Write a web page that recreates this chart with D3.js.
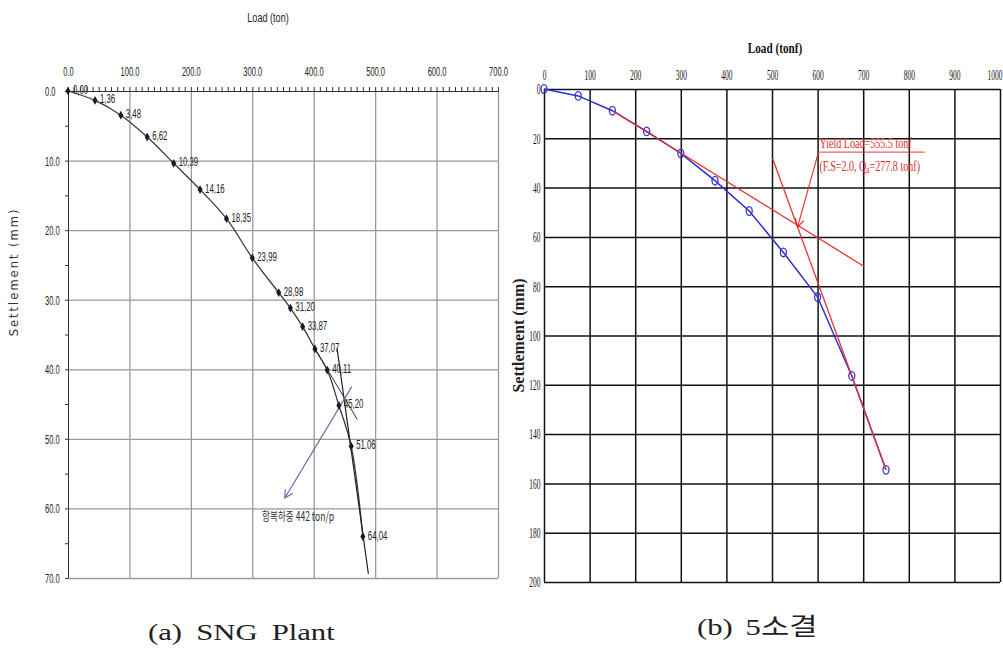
<!DOCTYPE html>
<html>
<head>
<meta charset="utf-8">
<script src="https://cdn.jsdelivr.net/npm/d3@7/dist/d3.min.js"></script>
<style>
  body { margin: 0; background: #fff; }
  svg { display: block; }
</style>
</head>
<body>
<svg id="drawing_region"></svg>
<script>
// (a) SNG Plant
const leftLoads       = [0, 44, 86, 129, 172, 215, 258, 300, 343, 362, 382, 402, 422, 441, 461, 480];
const leftSettlements = [0, 1.36, 3.48, 6.62, 10.39, 14.16, 18.35, 23.99, 28.98, 31.20, 33.87, 37.07, 40.11, 45.20, 51.06, 64.04];
const leftXTicks = [0, 100, 200, 300, 400, 500, 600, 700];
const leftYTicks = [0, 10, 20, 30, 40, 50, 60, 70];
const leftTangentA = [[402, 37.07], [471, 47.2]];
const leftTangentB = [[438, 37], [489, 69.4]];
const leftArrow    = [[462, 42.5], [353, 58.5]];
const leftNote     = {load: 316, settlement: 61.8, text: '항복하중  442  ton/p'};

// (b) 5소결
const rightLoads       = [0, 75, 150, 225, 300, 375, 450, 525, 600, 675, 750];
const rightSettlements = [0, 2.8, 8.8, 17.2, 26.1, 37.2, 49.5, 66.3, 84.4, 116.4, 154.5];
const rightXTicks = [0, 100, 200, 300, 400, 500, 600, 700, 800, 900, 1000];
const rightYTicks = [0, 20, 40, 60, 80, 100, 120, 140, 160, 180, 200];
const rightTangentA = [[150, 8.8], [702, 72]];
const rightTangentB = [[501, 28], [750, 154.5]];
const rightArrow    = [[602, 25.6], [556, 56]];
const rightUnder    = [[602, 25.6], [835, 25.6]];
const rightNote1 = 'Yield  Load=555.5 tonf';
const rightNote2 = '(F.S=2.0, Q';

const svg = d3.select('#drawing_region')
    .attr('width', 1003)
    .attr('height', 648);

svg.append('rect').attr('width', 1003).attr('height', 648).attr('fill', '#fff');

const defs = svg.append('defs');
function arrowMarker(id, color) {
    defs.append('marker')
        .attr('id', id)
        .attr('viewBox', '0 0 10 10')
        .attr('refX', 9).attr('refY', 5)
        .attr('markerWidth', 9).attr('markerHeight', 9)
        .attr('markerUnits', 'userSpaceOnUse')
        .attr('orient', 'auto')
        .append('path')
        .attr('d', 'M0,0 L9,5 L0,10')
        .attr('fill', 'none')
        .attr('stroke', color)
        .attr('stroke-width', 1.3);
}
arrowMarker('arrowBlue', '#6a6aa8');
arrowMarker('arrowRed', '#e02a2a');

const sans = "'Liberation Sans',Arial,sans-serif";
const serif = "'Liberation Serif','Times New Roman',serif";

// squeezed (or stretched) text, like the narrow fonts of the original
function squeezed(parent, x, y, sx, txt) {
    return parent.append('text')
        .attr('transform', `translate(${x}, ${y}) scale(${sx}, 1)`)
        .text(txt);
}

// ---------------- left chart ----------------
const ax = d3.scaleLinear().domain([0, 700]).range([68, 498]);
const ay = d3.scaleLinear().domain([0, 70]).range([91, 578]);
const L = svg.append('g');

// vertical grid
L.append('g')
    .attr('transform', `translate(0, ${ay(0)})`)
    .call(d3.axisTop(ax).tickValues(leftXTicks.slice(1)).tickSize(-(ay(70) - ay(0))).tickFormat(''))
    .call(g => g.select('.domain').remove())
    .selectAll('line').attr('stroke', '#9a9a9a').attr('stroke-width', 1.3);

// horizontal grid
L.append('g')
    .attr('transform', `translate(${ax(0)}, 0)`)
    .call(d3.axisLeft(ay).tickValues(leftYTicks.slice(1)).tickSize(-(ax(700) - ax(0))).tickFormat(''))
    .call(g => g.select('.domain').remove())
    .selectAll('line').attr('stroke', '#9a9a9a').attr('stroke-width', 1.3);

// top axis with minor ticks
L.append('g')
    .attr('transform', `translate(0, ${ay(0)})`)
    .call(d3.axisTop(ax).tickValues(d3.range(0, 701, 10)).tickSize(4).tickSizeOuter(0).tickFormat(''))
    .call(g => g.selectAll('line, path').attr('stroke', '#333'));

L.append('g')
    .attr('transform', `translate(0, ${ay(0)})`)
    .call(d3.axisTop(ax).tickValues(leftXTicks).tickSize(0).tickPadding(15).tickFormat(d3.format('.1f')))
    .call(g => g.select('.domain').remove())
    .selectAll('text')
    .attr('font-family', sans).attr('font-size', 13).attr('fill', '#222')
    .attr('transform', 'scale(0.58, 1)');

// left axis with minor ticks
L.append('g')
    .attr('transform', `translate(${ax(0)}, 0)`)
    .call(d3.axisLeft(ay).tickValues(d3.range(0, 71, 5)).tickSize(3).tickSizeOuter(0).tickFormat(''))
    .call(g => g.selectAll('line, path').attr('stroke', '#333'));

const yLabels = L.append('g')
    .attr('font-family', sans).attr('font-size', 13).attr('fill', '#222');
leftYTicks.forEach(d => squeezed(yLabels, 45, ay(d) + 5, 0.58, d3.format('.1f')(d)));

squeezed(L, (ax(0) + ax(700)) / 2 - 15, 22, 0.7, 'Load (ton)')
    .attr('text-anchor', 'middle')
    .attr('font-family', sans).attr('font-size', 13).attr('fill', '#222');

L.append('text')
    .attr('transform', `translate(18, ${ay(26)}) rotate(-90)`)
    .attr('text-anchor', 'middle')
    .attr('font-family', "'DejaVu Sans',sans-serif").attr('font-size', 11.5)
    .attr('letter-spacing', 2).attr('fill', '#333')
    .text('Settlement (mm)');

const leftData = leftLoads.map((d, i) => ({x: d, y: leftSettlements[i]}));
const leftLine = d3.line().x(d => ax(d.x)).y(d => ay(d.y)).curve(d3.curveCatmullRom.alpha(0.5));

L.append('path')
    .attr('d', leftLine(leftData))
    .attr('fill', 'none').attr('stroke', '#3a3a3a').attr('stroke-width', 1.3);

const straight = d3.line().x(d => ax(d[0])).y(d => ay(d[1]));
L.append('path').attr('d', straight(leftTangentA)).attr('fill', 'none').attr('stroke', '#333').attr('stroke-width', 1);
L.append('path').attr('d', straight(leftTangentB)).attr('fill', 'none').attr('stroke', '#222').attr('stroke-width', 1.2);
L.append('path').attr('d', straight(leftArrow))
    .attr('fill', 'none').attr('stroke', '#6a6aa8').attr('stroke-width', 1.2)
    .attr('marker-end', 'url(#arrowBlue)');

L.selectAll('.pt')
    .data(leftData)
    .join('path')
    .attr('class', 'pt')
    .attr('transform', d => `translate(${ax(d.x)}, ${ay(d.y)})`)
    .attr('d', d3.symbol(d3.symbolDiamond, 22))
    .attr('fill', '#1a1a2a');

const ptLabels = L.append('g')
    .attr('font-family', sans).attr('font-size', 13).attr('fill', '#222');
leftData.forEach(d => squeezed(ptLabels, ax(d.x) + 5, ay(d.y) + 3, 0.6, d3.format('.2f')(d.y).replace('.', ',')));

L.append('text')
    .attr('x', ax(leftNote.load))
    .attr('y', ay(leftNote.settlement))
    .attr('font-family', "'Noto Sans CJK KR',sans-serif").attr('font-size', 12.5).attr('fill', '#333')
    .attr('textLength', 72).attr('lengthAdjust', 'spacingAndGlyphs')
    .text(leftNote.text);

// ---------------- right chart ----------------
const bx = d3.scaleLinear().domain([0, 1000]).range([544, 1000]);
const by = d3.scaleLinear().domain([0, 200]).range([89, 582]);
const R = svg.append('g');

R.append('g')
    .attr('transform', `translate(0, ${by(0)})`)
    .call(d3.axisTop(bx).tickValues(rightXTicks).tickSize(-(by(200) - by(0))).tickFormat(''))
    .call(g => g.select('.domain').remove())
    .selectAll('line').attr('stroke', '#111').attr('stroke-width', 1.5);

R.append('g')
    .attr('transform', `translate(${bx(0)}, 0)`)
    .call(d3.axisLeft(by).tickValues(rightYTicks).tickSize(-(bx(1000) - bx(0))).tickFormat(''))
    .call(g => g.select('.domain').remove())
    .selectAll('line').attr('stroke', '#111').attr('stroke-width', 1.5);

R.append('g')
    .attr('transform', `translate(0, ${by(0)})`)
    .call(d3.axisTop(bx).tickValues(rightXTicks).tickSize(0).tickPadding(9).tickFormat(d3.format('d')))
    .call(g => g.select('.domain').remove())
    .selectAll('text')
    .attr('font-family', serif).attr('font-size', 15).attr('fill', '#111')
    .attr('transform', 'scale(0.5, 1)')
    .filter(d => d === 1000)
    .attr('text-anchor', 'end')
    .attr('x', (1002 - bx(1000)) / 0.5);

R.append('g')
    .attr('transform', `translate(${bx(0)}, 0)`)
    .call(d3.axisLeft(by).tickValues(rightYTicks).tickSize(0).tickPadding(7).tickFormat(d3.format('d')))
    .call(g => g.select('.domain').remove())
    .selectAll('text')
    .attr('font-family', serif).attr('font-size', 15).attr('fill', '#111')
    .attr('transform', 'scale(0.5, 1)');

squeezed(R, 775, 53, 0.8, 'Load (tonf)')
    .attr('text-anchor', 'middle')
    .attr('font-family', serif).attr('font-size', 14).attr('font-weight', 'bold').attr('fill', '#111');

R.append('text')
    .attr('transform', `translate(524, ${by(100)}) rotate(-90)`)
    .attr('text-anchor', 'middle')
    .attr('font-family', serif).attr('font-size', 16).attr('font-weight', 'bold').attr('fill', '#222')
    .text('Settlement (mm)');

const rightData = rightLoads.map((d, i) => ({x: d, y: rightSettlements[i]}));
const rightLine = d3.line().x(d => bx(d.x)).y(d => by(d.y));
const straightR = d3.line().x(d => bx(d[0])).y(d => by(d[1]));

R.append('path')
    .attr('d', rightLine(rightData))
    .attr('fill', 'none').attr('stroke', '#2f2fd0').attr('stroke-width', 1.5);

R.selectAll('.pt')
    .data(rightData)
    .join('ellipse')
    .attr('class', 'pt')
    .attr('cx', d => bx(d.x))
    .attr('cy', d => by(d.y))
    .attr('rx', 3).attr('ry', 4.3)
    .attr('fill', 'none').attr('stroke', '#3333d8').attr('stroke-width', 1.3);

R.append('path').attr('d', straightR(rightTangentA)).attr('fill', 'none').attr('stroke', '#e63232').attr('stroke-width', 1.3);
R.append('path').attr('d', straightR(rightTangentB)).attr('fill', 'none').attr('stroke', '#e63232').attr('stroke-width', 1.3);
R.append('path').attr('d', straightR(rightUnder)).attr('fill', 'none').attr('stroke', '#e63232').attr('stroke-width', 1);
R.append('path').attr('d', straightR(rightArrow))
    .attr('fill', 'none').attr('stroke', '#e02a2a').attr('stroke-width', 1.1)
    .attr('marker-end', 'url(#arrowRed)');

squeezed(R, bx(rightUnder[0][0]) + 1, by(rightUnder[0][1]) - 4, 0.72, rightNote1)
    .attr('font-family', serif).attr('font-size', 14).attr('fill', '#e02a2a');

const note2 = squeezed(R, bx(rightUnder[0][0]) + 1, by(rightUnder[0][1]) + 19, 0.72, null)
    .attr('font-family', serif).attr('font-size', 14).attr('fill', '#e02a2a');
note2.append('tspan').text(rightNote2);
note2.append('tspan').attr('font-size', 10).attr('dy', 2).text('a');
note2.append('tspan').attr('dy', -2).text('=277.8 tonf)');

// ---------------- captions ----------------
squeezed(svg, 148, 640, 1.28, '(a) SNG Plant')
    .attr('font-family', "'Liberation Serif','Noto Sans CJK KR',serif").attr('font-size', 24)
    .attr('word-spacing', 5).attr('fill', '#222');

squeezed(svg, 697, 635, 1.28, '(b) 5소결')
    .attr('font-family', "'Liberation Serif','Noto Sans CJK KR',serif").attr('font-size', 24)
    .attr('word-spacing', 4).attr('fill', '#222');
</script>
</body>
</html>
